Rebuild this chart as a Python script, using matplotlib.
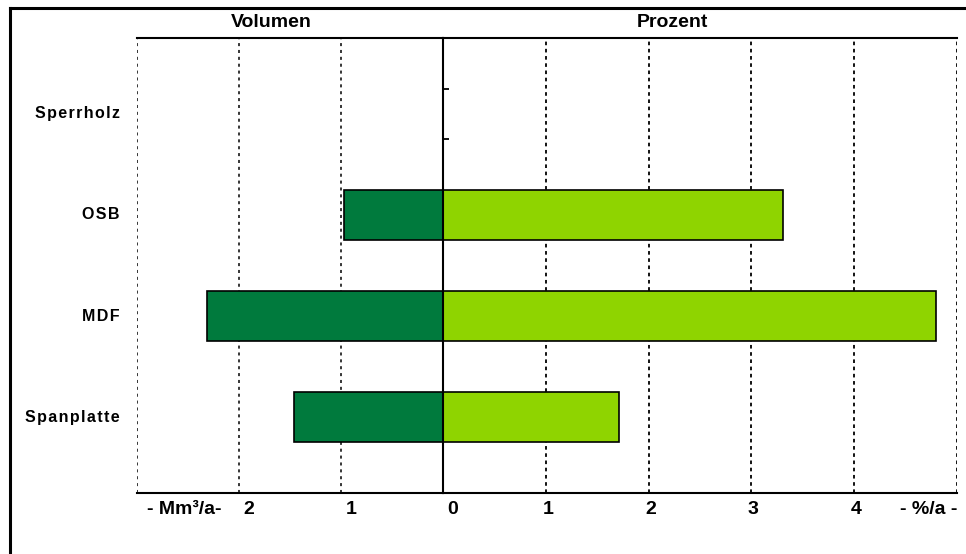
import matplotlib
matplotlib.use("Agg")
from matplotlib import pyplot as plt
from matplotlib.lines import Line2D
from matplotlib.transforms import ScaledTranslation

plt.rcParams['font.family'] = ['Liberation Sans', 'DejaVu Sans']

# data
categories = ['Spanplatte', 'MDF', 'OSB', 'Sperrholz']
volumen = [1.46, 2.31, 0.97, 0.0]      # Mm³/a
prozent = [1.71, 4.80, 3.31, 0.0]      # %/a
vol_ticks = [0, 1, 2, 3]
proz_ticks = [0, 1, 2, 3, 4, 5]

dark_green = '#007A3D'
light_green = '#8FD400'
bar_h = 0.5

fig = plt.figure(figsize=(9.66, 5.54), dpi=100)
W, H = 966, 554

def box(x0, x1, y0, y1):
    return [x0 / W, 1 - y1 / H, (x1 - x0) / W, (y1 - y0) / H]

axL = fig.add_axes(box(137, 443, 38, 493))
axR = fig.add_axes(box(443, 957, 38, 493))

ypos = list(range(len(categories)))

for y, v, p in zip(ypos, volumen, prozent):
    if v > 0:
        axL.barh(y, v, height=bar_h, color=dark_green, edgecolor='black', linewidth=1.2, zorder=3)
    if p > 0:
        axR.barh(y, p, height=bar_h, color=light_green, edgecolor='black', linewidth=1.2, zorder=3)
    if v == 0 and p == 0:
        # empty category: little edge marks on the zero line
        axR.hlines([y - bar_h / 2, y + bar_h / 2], 0, 0.06, color='black', lw=1.3, zorder=4)

axL.set_xlim(3, 0)
axR.set_xlim(0, 5)
for ax in (axL, axR):
    ax.set_ylim(-0.75, 3.75)
    ax.set_yticks([])
    ax.tick_params(axis='x', length=0, pad=6)
    for s in ax.spines.values():
        s.set_linewidth(1.5)
    ax.spines['left'].set_visible(False)
    ax.spines['right'].set_visible(False)

# dotted grid
for t in vol_ticks[1:]:
    axL.axvline(t, color='black', lw=1.1, ls=(0, (2, 2.5)), zorder=1)
for t in proz_ticks[1:]:
    axR.axvline(t, color='black', lw=1.3, ls=(0, (2, 2)), zorder=1)
axR.axvline(0, color='black', lw=1.5, zorder=5, clip_on=False)

tick_font = dict(fontsize=14, fontweight='bold')
axL.set_xticks(vol_ticks[:-1])
axL.set_xticklabels([str(t) for t in vol_ticks[:-1]], **tick_font)
axR.set_xticks(proz_ticks[1:-1])
axR.set_xticklabels([str(t) for t in proz_ticks[1:-1]], **tick_font)

# labels sit a little right of their grid lines
for lab in axL.get_xticklabels():
    lab.set_transform(lab.get_transform() + ScaledTranslation(10 / 100, 0, fig.dpi_scale_trans))
for lab in axR.get_xticklabels():
    lab.set_transform(lab.get_transform() + ScaledTranslation(2 / 100, 0, fig.dpi_scale_trans))

# unit labels
axL.text(2.54, -0.83, '- Mm³/a-', ha='center', va='top', **tick_font)
axR.text(4.72, -0.83, '- %/a -', ha='center', va='top', **tick_font)

# titles
axL.text(1.68, 3.90, 'Volumen', ha='center', va='center', **tick_font)
axR.text(2.23, 3.90, 'Prozent', ha='center', va='center', **tick_font)

# category labels (letter-spaced, right-aligned)
for y, c in zip(ypos, categories):
    yf = fig.transFigure.inverted().transform(axL.transData.transform((0, y)))[1]
    fig.text(120 / W, yf, '\u200a'.join(c), ha='right', va='center',
             fontsize=11.5, fontweight='bold')

# outer frame (partially visible)
fig.add_artist(Line2D([10 / W, 10 / W], [0, 1 - 8 / H], transform=fig.transFigure, color='black', lw=2.2))
fig.add_artist(Line2D([10 / W, 1], [1 - 8 / H, 1 - 8 / H], transform=fig.transFigure, color='black', lw=2.2))

fig.savefig('out.png', dpi=100)
